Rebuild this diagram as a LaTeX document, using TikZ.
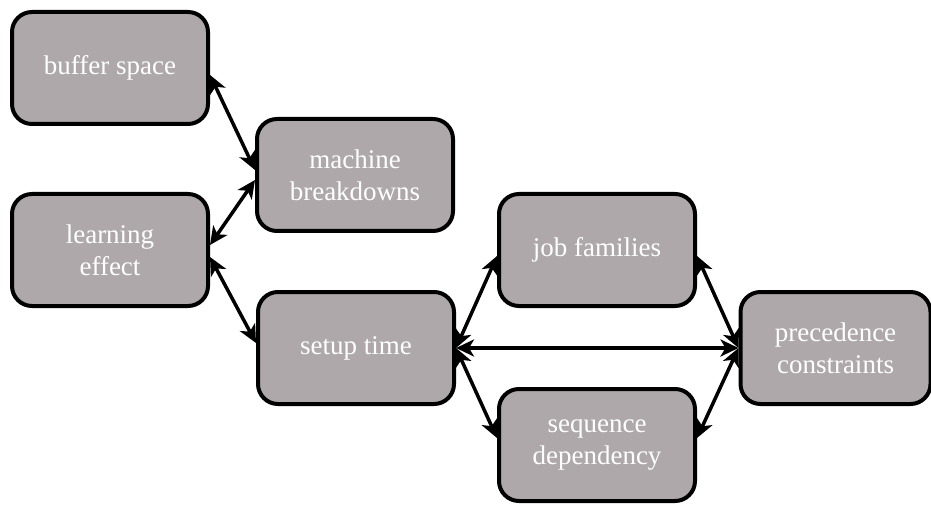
\documentclass[tikz,border=0pt]{standalone}
\usepackage{fontspec}
\setmainfont{Liberation Serif}
\newfontfamily\boxfont{Liberation Serif}
\usetikzlibrary{arrows.meta}
\definecolor{boxgrey}{RGB}{175,168,170}
\tikzset{
  factor/.style={draw=black, fill=boxgrey, line width=4pt, rounded corners=20pt,
    minimum width=196pt, minimum height=112pt, align=center, text=white,
    font=\boxfont\fontsize{27}{32}\selectfont, inner sep=0pt},
  link/.style={line width=3.5pt, {Stealth[length=18pt,width=17pt,inset=5pt]}-{Stealth[length=18pt,width=17pt,inset=5pt]}}
}
\begin{document}
\begin{tikzpicture}[x=1pt,y=1pt]
\useasboundingbox (0,0) rectangle (931,504);
\begin{scope}
\clip (0,0) rectangle (931,504);
% factor boxes
\node[factor] (buffer) at (110,436) {buffer space};
\node[factor] (machine) at (355,329) {machine\\breakdowns};
\node[factor] (learning) at (110,254) {learning\\effect};
\node[factor] (setup) at (356,156) {setup time};
\node[factor] (job) at (597,254) {job families};
\node[factor] (sequence) at (597,59) {sequence\\dependency};
\node[factor, minimum width=190pt] (prec) at (835.5,156) {precedence\\constraints};
\end{scope}
% relations between the factors
\draw[link] ([yshift=-7pt]buffer.east) -- ([yshift=5pt]machine.west);
\draw[link] ([yshift=-5pt]machine.west) -- ([yshift=5pt]learning.east);
\draw[link] ([yshift=-7pt]learning.east) -- ([yshift=5pt]setup.west);
\draw[link] (setup.east) -- ([yshift=-6pt]job.west);
\draw[link] (setup.east) -- (prec.west);
\draw[link] (setup.east) -- ([yshift=7pt]sequence.west);
\draw[link] ([yshift=-6pt]job.east) -- (prec.west);
\draw[link] ([yshift=7pt]sequence.east) -- (prec.west);
\end{tikzpicture}
\end{document}
